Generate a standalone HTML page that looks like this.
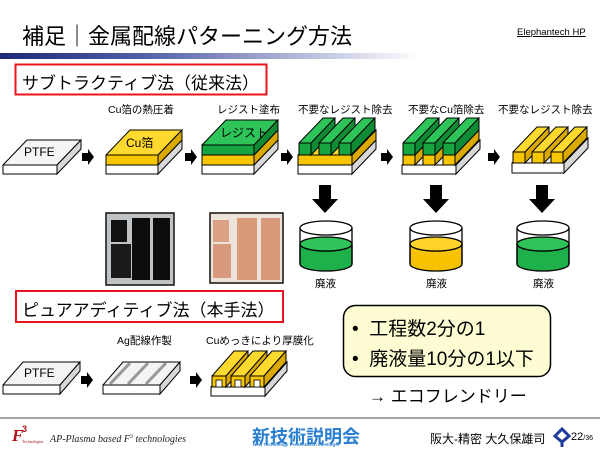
<!DOCTYPE html>
<html><head><meta charset="utf-8">
<style>
html,body{margin:0;padding:0;background:#fff;}
body{width:600px;height:450px;position:relative;overflow:hidden;font-family:"Liberation Sans","Noto Sans CJK JP",sans-serif;color:#000;}
.t{position:absolute;white-space:nowrap;}
</style></head>
<body>
<svg id="s" width="600" height="450" style="position:absolute;left:0;top:0">
<defs>
<linearGradient id="bar" x1="0" x2="1" y1="0" y2="0">
<stop offset="0" stop-color="#1c2778"/><stop offset="0.35" stop-color="#5560a8"/><stop offset="1" stop-color="#ffffff"/>
</linearGradient>
</defs>
<rect x="0" y="53" width="420" height="6" fill="url(#bar)"/>
<rect x="15.5" y="64.5" width="251" height="30" fill="none" stroke="#e8141e" stroke-width="2"/>
<rect x="16" y="291" width="267" height="31" fill="none" stroke="#e8141e" stroke-width="2"/>
<rect x="343.5" y="305.5" width="207" height="71" rx="12" fill="#fdfcd2" stroke="#000" stroke-width="1.5"/>
<line x1="0" y1="418" x2="600" y2="418" stroke="#888" stroke-width="1.5"/>
<rect x="106" y="213" width="68" height="72" fill="#bfc3c6" stroke="#111" stroke-width="1.5"/>
<rect x="111" y="220" width="16" height="22" fill="#111"/>
<rect x="111" y="244" width="20" height="34" fill="#1a1a1a"/>
<rect x="132" y="218" width="18" height="62" fill="#0d0d0d"/>
<rect x="153" y="218" width="17" height="62" fill="#0d0d0d"/>
<rect x="210" y="213" width="73" height="70" fill="#eee3d8" stroke="#111" stroke-width="1.5"/>
<rect x="213" y="220" width="16" height="22" fill="#dba184"/>
<rect x="213" y="244" width="18" height="34" fill="#d79a7d"/>
<rect x="237" y="218" width="20" height="62" fill="#d99a7a"/>
<rect x="261" y="218" width="19" height="62" fill="#d8987a"/>
<g id="g"></g>
<text x="12" y="441" font-family="Liberation Serif,serif" font-style="italic" font-weight="bold" font-size="17" fill="#b01018">F</text>
<text x="22" y="432" font-family="Liberation Sans,sans-serif" font-weight="bold" font-size="9" fill="#b01018">3</text>
<text x="22" y="443" font-family="Liberation Serif,serif" font-size="4" fill="#b01018">Technologies</text>
<text x="50" y="442" font-family="Liberation Serif,serif" font-style="italic" font-size="10" fill="#222">AP-Plasma based F<tspan font-size="6" dy="-4">3</tspan><tspan dy="4"> technologies</tspan></text>
<path d="M555 436 L562 429 L569 436 L562 442 Z" fill="none" stroke="#1e3a9a" stroke-width="3"/>
<line x1="562" y1="442" x2="562" y2="447" stroke="#1e3a9a" stroke-width="3"/>
</svg>

<div class="t" style="left:22px;top:19px;font-size:22px;">補足｜金属配線パターニング方法</div>
<div class="t" style="left:517px;top:27px;font-size:9.5px;text-decoration:underline;">Elephantech HP</div>
<div class="t" style="left:22px;top:69px;font-size:17px;">サブトラクティブ法（従来法）</div>
<div class="t" style="left:22px;top:296px;font-size:17px;">ピュアアディティブ法（本手法）</div>

<div class="t" style="left:108px;top:102px;font-size:10.5px;">Cu箔の熱圧着</div>
<div class="t" style="left:217px;top:102px;font-size:10.5px;">レジスト塗布</div>
<div class="t" style="left:298px;top:102px;font-size:10.5px;">不要なレジスト除去</div>
<div class="t" style="left:408px;top:102px;font-size:10.5px;">不要なCu箔除去</div>
<div class="t" style="left:498px;top:102px;font-size:10.5px;">不要なレジスト除去</div>

<div class="t" style="left:315px;top:276px;font-size:10.5px;">廃液</div>
<div class="t" style="left:426px;top:276px;font-size:10.5px;">廃液</div>
<div class="t" style="left:533px;top:276px;font-size:10.5px;">廃液</div>

<div class="t" style="left:117px;top:333px;font-size:10.5px;">Ag配線作製</div>
<div class="t" style="left:206px;top:333px;font-size:10.5px;">Cuめっきにより厚膜化</div>

<div class="t" style="left:352px;top:314px;font-size:19px;">•&nbsp; 工程数2分の1</div>
<div class="t" style="left:352px;top:344px;font-size:19px;">•&nbsp; 廃液量10分の1以下</div>
<div class="t" style="left:369px;top:382px;font-size:17px;">→ エコフレンドリー</div>

<div class="t" style="left:252px;top:423px;font-size:18px;font-weight:bold;color:#2a7fd0;">新技術説明会</div>
<div class="t" style="left:253px;top:442px;font-size:4.5px;font-weight:bold;color:#2a7fd0;">New Technology Presentation Meetings!</div>
<div class="t" style="left:430px;top:430px;font-size:12px;">阪大-精密 大久保雄司</div>
<div class="t" style="left:571px;top:431px;font-size:11px;">22<span style="font-size:7px">/36</span></div>

<script>
var g=document.getElementById('g');var NS='http://www.w3.org/2000/svg';
function el(n,a){var e=document.createElementNS(NS,n);for(var k in a)e.setAttribute(k,a[k]);g.appendChild(e);return e;}
var C={w:['#ffffff','#f4f4f4','#d8d8d8'],y:['#f7c600','#ffd92e','#d9a900'],gr:['#17a541','#2fc45a','#0f8a35']};
function box(x,y,w,h,dx,dy,c){
 el('polygon',{points:[x,y,x+w,y,x+w+dx,y-dy,x+dx,y-dy].join(' '),fill:c[1],stroke:'#000','stroke-width':1,'stroke-linejoin':'round'});
 el('polygon',{points:[x+w,y,x+w+dx,y-dy,x+w+dx,y-dy+h,x+w,y+h].join(' '),fill:c[2],stroke:'#000','stroke-width':1});
 el('rect',{x:x,y:y,width:w,height:h,fill:c[0],stroke:'#000','stroke-width':1});
}
var DX=24,DY=25;
box(3,165,54,9,DX,DY,C.w);
box(106,165,52,9,DX,DY,C.w);box(106,155,52,10,DX,DY,C.y);
box(202,165,52,9,DX,DY,C.w);box(202,155,52,10,DX,DY,C.y);box(202,145,52,10,DX,DY,C.gr);
box(298,165,54,9,DX,DY,C.w);box(298,155,54,10,DX,DY,C.y);
[299,319,339].forEach(function(x){box(x,143,12,12,DX,DY,C.gr);});
box(402,165,54,9,DX,DY,C.w);
[403,423,443].forEach(function(x){box(x,155,12,10,DX,DY,C.y);box(x,143,12,12,DX,DY,C.gr);});
box(512,163,52,10,DX,DY,C.w);
[513,532,551].forEach(function(x){box(x,152,12,11,DX,DY,C.y);});
function ra(x,y){el('polygon',{points:[x,y-4,x+6,y-4,x+6,y-8,x+12,y,x+6,y+8,x+6,y+4,x,y+4].join(' '),fill:'#000'});}
ra(82,157);ra(185,157);ra(281,157);ra(381,157);ra(488,157);
ra(81,380);ra(190,380);
function da(cx){el('polygon',{points:[cx-6,185,cx+6,185,cx+6,199,cx+13,199,cx,213,cx-13,199,cx-6,199].join(' '),fill:'#000'});}
da(325);da(436);da(542);
function beaker(x,w,col){var cx=x+w/2,rx=w/2;
 el('path',{d:'M'+x+' 244 A'+rx+' 7 0 0 0 '+(x+w)+' 244 L'+(x+w)+' 264 A'+rx+' 7 0 0 1 '+x+' 264 Z',fill:col[0],stroke:'#000','stroke-width':1.3});
 el('ellipse',{cx:cx,cy:244,rx:rx,ry:7,fill:col[1],stroke:'#000','stroke-width':1.3});
 el('line',{x1:x,y1:228,x2:x,y2:264,stroke:'#000','stroke-width':1.3});
 el('line',{x1:x+w,y1:228,x2:x+w,y2:264,stroke:'#000','stroke-width':1.3});
 el('ellipse',{cx:cx,cy:228,rx:rx,ry:7,fill:'none',stroke:'#000','stroke-width':1.3});}
var GB=['#1eb04a','#2fc45a'],YB=['#f7c300','#ffd22a'];
beaker(300,52,GB);beaker(410,52,YB);beaker(517,52,GB);
var dx2=20,dy2=23;
box(3,385,57,9,dx2,dy2,C.w);
box(103,385,57,9,dx2,dy2,C.w);
[110,128,146].forEach(function(x){el('line',{x1:x,y1:384,x2:x+dx2,y2:385-dy2+1,stroke:'#999','stroke-width':3});});
box(211,387,54,9,dx2+2,dy2+2,C.w);
[212,231,250].forEach(function(x){box(x,376,14,11,dx2+2,dy2+2,C.y);el('rect',{x:x+4,y:380,width:6,height:7,fill:'#fff',stroke:'#000','stroke-width':0.8});});
</script>
<div class="t" style="left:24px;top:145px;font-size:12px;">PTFE</div>
<div class="t" style="left:126px;top:134px;font-size:12px;">Cu箔</div>
<div class="t" style="left:220px;top:124px;font-size:12px;">レジスト</div>
<div class="t" style="left:24px;top:366px;font-size:12px;">PTFE</div>
</body></html>
